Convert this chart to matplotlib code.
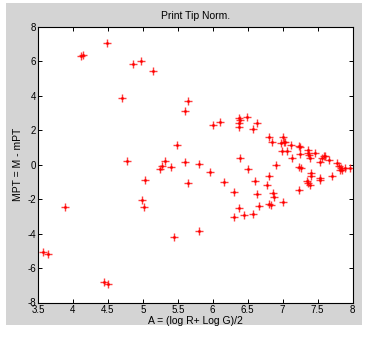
import matplotlib
matplotlib.use("Agg")
import matplotlib.pyplot as plt
from matplotlib.patches import Rectangle
from matplotlib.ticker import FormatStrFormatter, FuncFormatter

# A = (log R + log G)/2 and MPT values
a_values = [
    4.12, 4.15, 4.49, 4.86, 4.97, 5.15, 4.70, 5.60, 5.65, 5.49,
    4.78, 5.32, 5.27, 5.25, 5.40, 5.60, 5.80, 5.03, 5.64, 4.99,
    5.01, 3.88, 5.45, 5.80, 3.57, 3.65, 4.45, 4.50, 6.01, 6.11,
    6.38, 6.39, 6.37, 6.38, 6.49, 6.64, 6.57, 5.96, 6.39, 6.51,
    6.16, 6.30, 6.61, 6.80, 6.90, 6.77, 6.64, 6.86, 6.88, 7.01,
    6.80, 6.83, 6.66, 6.38, 6.31, 6.45, 6.58, 7.23, 6.81, 6.85,
    7.01, 6.98, 7.02, 7.04, 7.12, 6.99, 7.06, 7.13, 7.24, 7.25,
    7.25, 7.36, 7.36, 7.38, 7.39, 7.47, 7.53, 7.57, 7.59, 7.61,
    7.66, 7.78, 7.81, 7.83, 7.85, 7.82, 7.96, 7.23, 7.27, 7.41,
    7.40, 7.54, 7.53, 7.71, 7.35, 7.37, 7.39, 7.89,
]
mpt_values = [
    6.30, 6.35, 7.05, 5.84, 6.05, 5.43, 3.88, 3.15, 3.68, 1.12,
    0.22, 0.24, -0.06, -0.25, -0.12, 0.16, 0.05, -0.89, -1.06, -2.05,
    -2.45, -2.47, -4.21, -3.83, -5.04, -5.18, -6.80, -6.90, 2.32, 2.49,
    2.71, 2.57, 2.45, 2.22, 2.80, 2.45, 2.07, -0.41, 0.40, -0.23,
    -1.03, -1.58, -0.92, -0.64, -0.03, -1.20, -1.68, -1.64, -1.87, -2.15,
    -2.28, -2.33, -2.42, -2.54, -3.02, -2.93, -2.84, -1.45, 1.64, 1.35,
    1.64, 1.29, 1.30, 1.33, 1.14, 0.78, 0.82, 0.38, 1.10, 1.01,
    0.63, 0.85, 0.68, 0.54, 0.38, 0.67, 0.17, 0.37, 0.48, 0.52,
    0.25, 0.10, -0.06, -0.19, -0.29, -0.29, -0.18, -0.11, -0.19, -0.50,
    -0.64, -0.77, -0.87, -0.64, -0.93, -1.06, -1.17, -0.16,
]
x_ticks = [3.5, 4, 4.5, 5, 5.5, 6, 6.5, 7, 7.5, 8]
y_ticks = [-8, -6, -4, -2, 0, 2, 4, 6, 8]

plt.rcParams["font.family"] = ["Liberation Sans", "DejaVu Sans"]

fig = plt.figure(figsize=(3.68, 3.38), dpi=100, facecolor="white")
fig.patches.append(Rectangle((6 / 368, 13 / 338), 356 / 368, 322 / 338,
                             transform=fig.transFigure, facecolor="#d4d4d4",
                             edgecolor="none", zorder=-10))

ax = fig.add_axes([38 / 368, 35.5 / 338, 314.5 / 368, 275.5 / 338])
ax.set_zorder(1)
ax.set_facecolor("white")

ax.plot(a_values, mpt_values, linestyle="none", marker="+", markersize=6,
        markeredgewidth=1.0, color="#ff1a1a", alpha=0.85)
ax.plot(a_values, mpt_values, linestyle="none", marker="o", markersize=2.0,
        markeredgewidth=0, color="#ff0000")

ax.set_xlim(3.5, 8)
ax.set_ylim(-8, 8)
ax.set_xticks(x_ticks)
ax.set_yticks(y_ticks)
ax.xaxis.set_major_formatter(FuncFormatter(lambda v, p: f"{v:g}"))
ax.yaxis.set_major_formatter(FormatStrFormatter("%d"))
ax.tick_params(direction="in", top=True, right=True, length=3, width=0.7,
               labelsize=7, pad=1.5)
for spine in ax.spines.values():
    spine.set_linewidth(0.8)

ax.set_title("Print Tip Norm.", fontsize=7.5, pad=6)
ax.set_xlabel("A = (log R+ Log G)/2", fontsize=7.5, labelpad=1)
ax.set_ylabel("MPT = M - mPT", fontsize=7.5, labelpad=3)

fig.savefig("out.png", dpi=100, facecolor="white")
